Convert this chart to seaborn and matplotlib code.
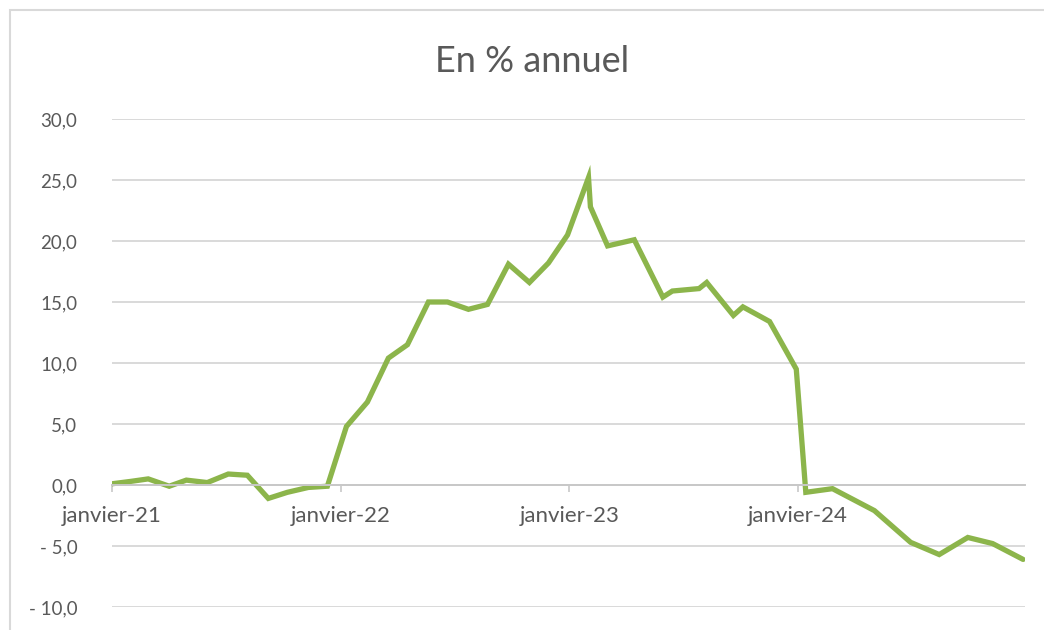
import numpy as np
import pandas as pd
import matplotlib
matplotlib.use('Agg')
import matplotlib.pyplot as plt
from matplotlib.patches import Rectangle
from matplotlib.ticker import FuncFormatter
import seaborn as sns

# données (mois écoulés depuis janvier 2021, variation en % annuel)
mois = [0.0, 1.0, 1.9, 3.0, 3.9, 5.0, 6.1, 7.1, 8.2, 9.2, 10.3, 11.3,
        12.3, 13.4, 14.5, 15.5, 16.6, 17.6, 18.7, 19.7, 20.8, 21.9, 22.9, 23.9,
        25.0, 25.1, 26.0, 27.4, 28.9, 29.4, 30.8, 31.2, 32.6, 33.1, 34.5, 35.9,
        36.4, 37.8, 40.0, 41.9, 43.4, 44.9, 46.2, 47.8]
variation = [0.1, 0.3, 0.5, -0.1, 0.4, 0.2, 0.9, 0.8, -1.1, -0.6, -0.2, -0.1,
             4.8, 6.8, 10.4, 11.5, 15.0, 15.0, 14.4, 14.8, 18.1, 16.6, 18.2, 20.5,
             25.2, 22.8, 19.6, 20.1, 15.4, 15.9, 16.1, 16.6, 13.9, 14.6, 13.4, 9.5,
             -0.6, -0.3, -2.1, -4.7, -5.7, -4.3, -4.8, -6.1]

ticks_x = [0, 12, 24, 36]
labels_x = ['janvier-21', 'janvier-22', 'janvier-23', 'janvier-24']
ticks_y = [-10, -5, 0, 5, 10, 15, 20, 25, 30]

titre = 'En % annuel'

df = pd.DataFrame({'mois': mois, 'variation': variation})

sns.set_theme(style='white')
plt.rcParams['font.family'] = ['Lato', 'DejaVu Sans']

fig = plt.figure(figsize=(10.44, 6.3), dpi=100)
ax = fig.add_axes([112 / 1044, 1 - 607 / 630, (1025 - 112) / 1044, (607 - 119) / 630])

# cadre du graphique
fig.patches.append(Rectangle((10 / 1044, -0.1), 1.2, (620 / 630) + 0.1,
                             transform=fig.transFigure, fill=False,
                             edgecolor='#d9d9d9', linewidth=1.5))

sns.lineplot(data=df, x='mois', y='variation', ax=ax, color='#8cb54b',
             linewidth=3.8, solid_joinstyle='miter')

ax.set_xlim(0, 47.9)
ax.set_ylim(-10, 30)
ax.set_yticks(ticks_y)


def fmt(v, pos):
    s = f'{abs(v):.1f}'.replace('.', ',')
    return f'- {s}' if v < 0 else s


ax.yaxis.set_major_formatter(FuncFormatter(fmt))
ax.set_xticks(ticks_x)
ax.set_xticklabels(labels_x)

ax.grid(axis='y', color='#d9d9d9', linewidth=1.4)
ax.set_axisbelow(True)
for s in ['top', 'right', 'left']:
    ax.spines[s].set_visible(False)
ax.spines['bottom'].set_position(('data', 0))
ax.spines['bottom'].set_color('#c8c8c8')
ax.spines['bottom'].set_linewidth(1.4)

ax.tick_params(axis='x', direction='out', length=5, width=1.2, color='#c8c8c8',
               labelsize=16, labelcolor='#595959', pad=10, bottom=True)
ax.tick_params(axis='y', length=0, labelsize=13.5, labelcolor='#595959', pad=25)
ax.set_xlabel('')
ax.set_ylabel('')

fig.text(532 / 1044, 1 - 61 / 630, titre, ha='center', va='center',
         fontsize=26, color='#595959')

fig.savefig('out.png', dpi=100)
